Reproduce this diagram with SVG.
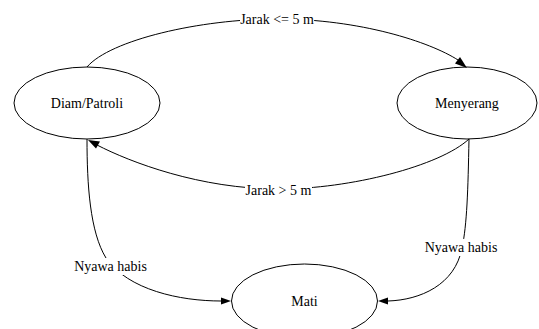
<svg xmlns="http://www.w3.org/2000/svg" width="539" height="329" viewBox="0 0 539 329">
<rect width="539" height="329" fill="#fff"/>
<g id="connectors">
<path d="M87,67 C110,40 200,19 277,19 C360,19 430,42 458,60" fill="none" stroke="#000"/>
<polygon points="467,68 455,63.5 460,57" fill="#000"/>
<path d="M469,139 C440,166 350,189 279,189 C200,189 130,162 97,145" fill="none" stroke="#000"/>
<polygon points="88,140 100,141.5 96,148.5" fill="#000"/>
<path d="M87,139 C87,185 90,232 106,258 C128,290 180,301 221,301" fill="none" stroke="#000"/>
<polygon points="231,301 221,297.5 221,304.5" fill="#000"/>
<path d="M469,139 C468,190 467,225 462,248 C455,285 420,300 388,301" fill="none" stroke="#000"/>
<polygon points="378,301 388,297.5 388,304.5" fill="#000"/>
<rect x="240" y="12" width="74" height="15" fill="#fff"/>
<text x="277" y="24" font-family="Liberation Serif" font-size="14" text-anchor="middle" fill="#000">Jarak &lt;= 5 m</text>
<rect x="245" y="183" width="67" height="15" fill="#fff"/>
<text x="278.5" y="195" font-family="Liberation Serif" font-size="14" text-anchor="middle" fill="#000">Jarak &gt; 5 m</text>
<rect x="74" y="258" width="73" height="17" fill="#fff"/>
<text x="110.5" y="271" font-family="Liberation Serif" font-size="14" text-anchor="middle" fill="#000">Nyawa habis</text>
<rect x="424" y="239" width="74" height="17" fill="#fff"/>
<text x="461" y="252" font-family="Liberation Serif" font-size="14" text-anchor="middle" fill="#000">Nyawa habis</text>
</g>
<g id="diam">
<ellipse cx="87" cy="103" rx="73" ry="36" fill="none" stroke="#000"/>
<text x="87" y="108" font-family="Liberation Serif" font-size="14" text-anchor="middle" fill="#000">Diam/Patroli</text>
</g>
<g id="menyerang">
<ellipse cx="467" cy="103" rx="70" ry="36" fill="none" stroke="#000"/>
<text x="467" y="108" font-family="Liberation Serif" font-size="14" text-anchor="middle" fill="#000">Menyerang</text>
</g>
<g id="mati">
<ellipse cx="304.5" cy="301" rx="73" ry="37" fill="none" stroke="#000"/>
<text x="304.5" y="306" font-family="Liberation Serif" font-size="14" text-anchor="middle" fill="#000">Mati</text>
</g>
</svg>
